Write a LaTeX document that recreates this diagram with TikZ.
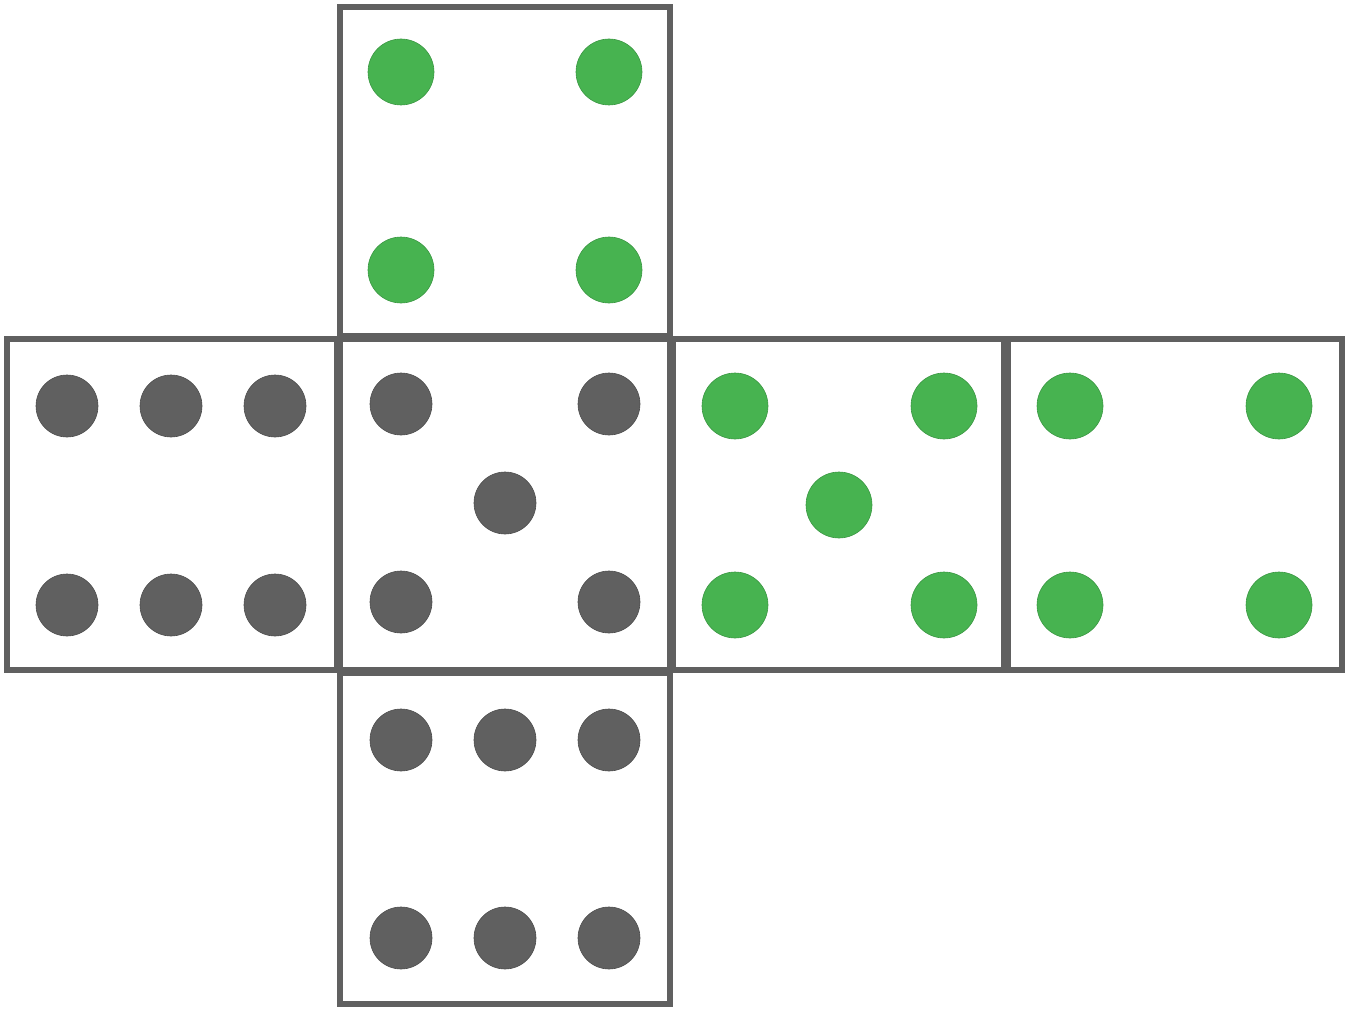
\documentclass[tikz,border=0pt]{standalone}
\definecolor{dg}{HTML}{606060}
\definecolor{gr}{HTML}{47B350}
\begin{document}
\begin{tikzpicture}[x=1pt,y=-1pt,face/.style={draw=dg,line width=6pt},
gd/.style={fill=dg,draw=dg!80!black,line width=0.6pt},
gn/.style={fill=gr,draw=gr!85!black,line width=0.6pt}]
\useasboundingbox (0,0) rectangle (1346,1011);
\draw[face] (7,339) rectangle (337,670);
\draw[face] (340,339) rectangle (670,670);
\draw[face] (673,339) rectangle (1004,670);
\draw[face] (1008,339) rectangle (1342,670);
\draw[face] (340,7) rectangle (670,336);
\draw[face] (340,673) rectangle (670,1004);
\foreach \x in {67,171,275} \foreach \y in {406,605} \fill[gd] (\x,\y) circle (31);
\foreach \p in {(401,404),(609,404),(505,503),(401,602),(609,602)} \fill[gd] \p circle (31);
\foreach \x in {401,505,609} \foreach \y in {740,938} \fill[gd] (\x,\y) circle (31);
\foreach \p in {(401,72),(609,72),(401,270),(609,270)} \fill[gn] \p circle (33);
\foreach \p in {(735,406),(944,406),(839,505),(735,605),(944,605)} \fill[gn] \p circle (33);
\foreach \p in {(1070,406),(1279,406),(1070,605),(1279,605)} \fill[gn] \p circle (33);
\end{tikzpicture}
\end{document}
